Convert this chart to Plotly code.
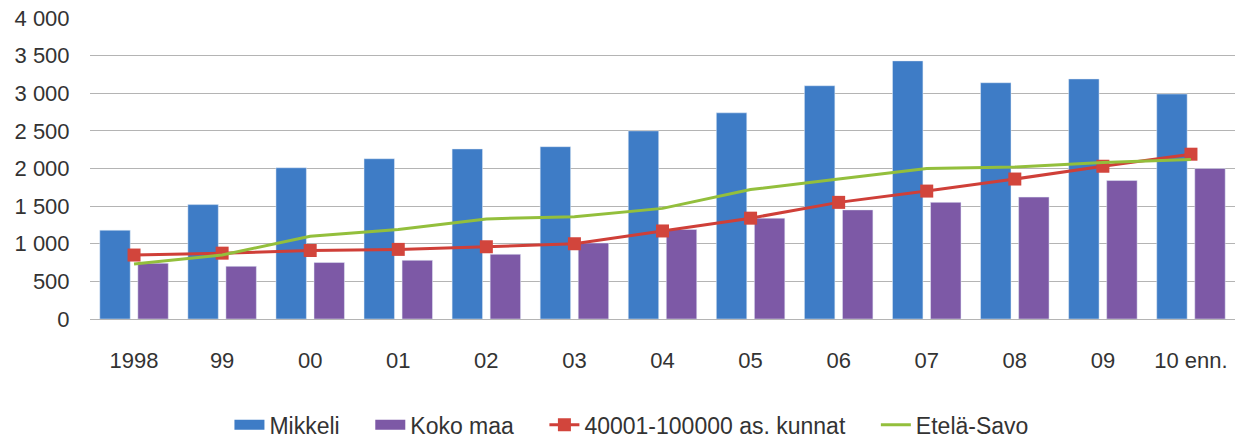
import plotly.graph_objects as go

categories = ["1998", "99", "00", "01", "02", "03", "04", "05", "06", "07", "08", "09", "10 enn."]
mikkeli = [1180, 1520, 2010, 2130, 2260, 2290, 2500, 2740, 3100, 3430, 3140, 3190, 2990]
koko_maa = [740, 700, 750, 780, 860, 1010, 1190, 1340, 1450, 1550, 1620, 1840, 2000]
kunnat = [850, 875, 910, 925, 960, 1000, 1170, 1340, 1550, 1700, 1860, 2030, 2190]
etela_savo = [730, 850, 1100, 1190, 1330, 1360, 1470, 1720, 1860, 2000, 2020, 2080, 2120]
y_tickvals = [0, 500, 1000, 1500, 2000, 2500, 3000, 3500, 4000]
y_ticktext = ["0", "500", "1 000", "1 500", "2 000", "2 500", "3 000", "3 500", "4 000"]

FONT = "Liberation Sans, Arial, sans-serif"
BLUE = "#3e7cc6"
PURPLE = "#7d59a6"
RED = "#cf3f38"
GREEN = "#93bf3c"
PAD = "\u00a0" * 4  # spacing after legend labels

fig = go.Figure()
fig.add_trace(go.Bar(x=categories, y=mikkeli, name="Mikkeli", marker_color=BLUE,
                     legendgroup="m", showlegend=False))
fig.add_trace(go.Bar(x=categories, y=koko_maa, name="Koko maa", marker_color=PURPLE,
                     legendgroup="k", showlegend=False))
# legend-only entries giving wide rectangular swatches for the bar series
fig.add_trace(go.Scatter(x=[None], y=[None], name="Mikkeli" + PAD, mode="lines", legendgroup="m",
                         line=dict(color=BLUE, width=15), legendrank=1, hoverinfo="skip"))
fig.add_trace(go.Scatter(x=[None], y=[None], name="Koko maa" + PAD, mode="lines", legendgroup="k",
                         line=dict(color=PURPLE, width=15), legendrank=2, hoverinfo="skip"))
fig.add_trace(go.Scatter(x=categories, y=kunnat, name="40001-100000 as. kunnat" + PAD, mode="lines+markers",
                         line=dict(color=RED, width=3), legendrank=3,
                         marker=dict(symbol="square", size=13, color="#d2453c")))
fig.add_trace(go.Scatter(x=categories, y=etela_savo, name="Etelä-Savo", mode="lines",
                         line=dict(color=GREEN, width=3), legendrank=4))

fig.update_layout(
    width=1243, height=438,
    margin=dict(l=90, r=8, t=18, b=119, autoexpand=False),
    paper_bgcolor="white", plot_bgcolor="white",
    barmode="group", bargap=0.136, bargroupgap=0.2,
    font=dict(family=FONT, size=22, color="#333333"),
    showlegend=True,
    legend=dict(orientation="h", x=0.508, xref="container", xanchor="center",
                y=0.03, yref="container", yanchor="middle",
                font=dict(size=23), traceorder="normal", itemwidth=30),
)
fig.update_xaxes(range=[-0.5, len(categories) - 0.5], showgrid=False, showline=False,
                 ticks="outside", ticklen=22, tickcolor="rgba(0,0,0,0)",
                 tickfont=dict(size=22), automargin=False)
fig.update_yaxes(range=[0, 4000], tickvals=y_tickvals, ticktext=y_ticktext,
                 showgrid=True, gridcolor="#b4b4b4", gridwidth=1.2,
                 zeroline=True, zerolinecolor="#b4b4b4", zerolinewidth=1.2,
                 ticks="outside", ticklen=15, tickcolor="rgba(0,0,0,0)", tickfont=dict(size=22),
                 automargin=False)

fig.write_html("out.html")
